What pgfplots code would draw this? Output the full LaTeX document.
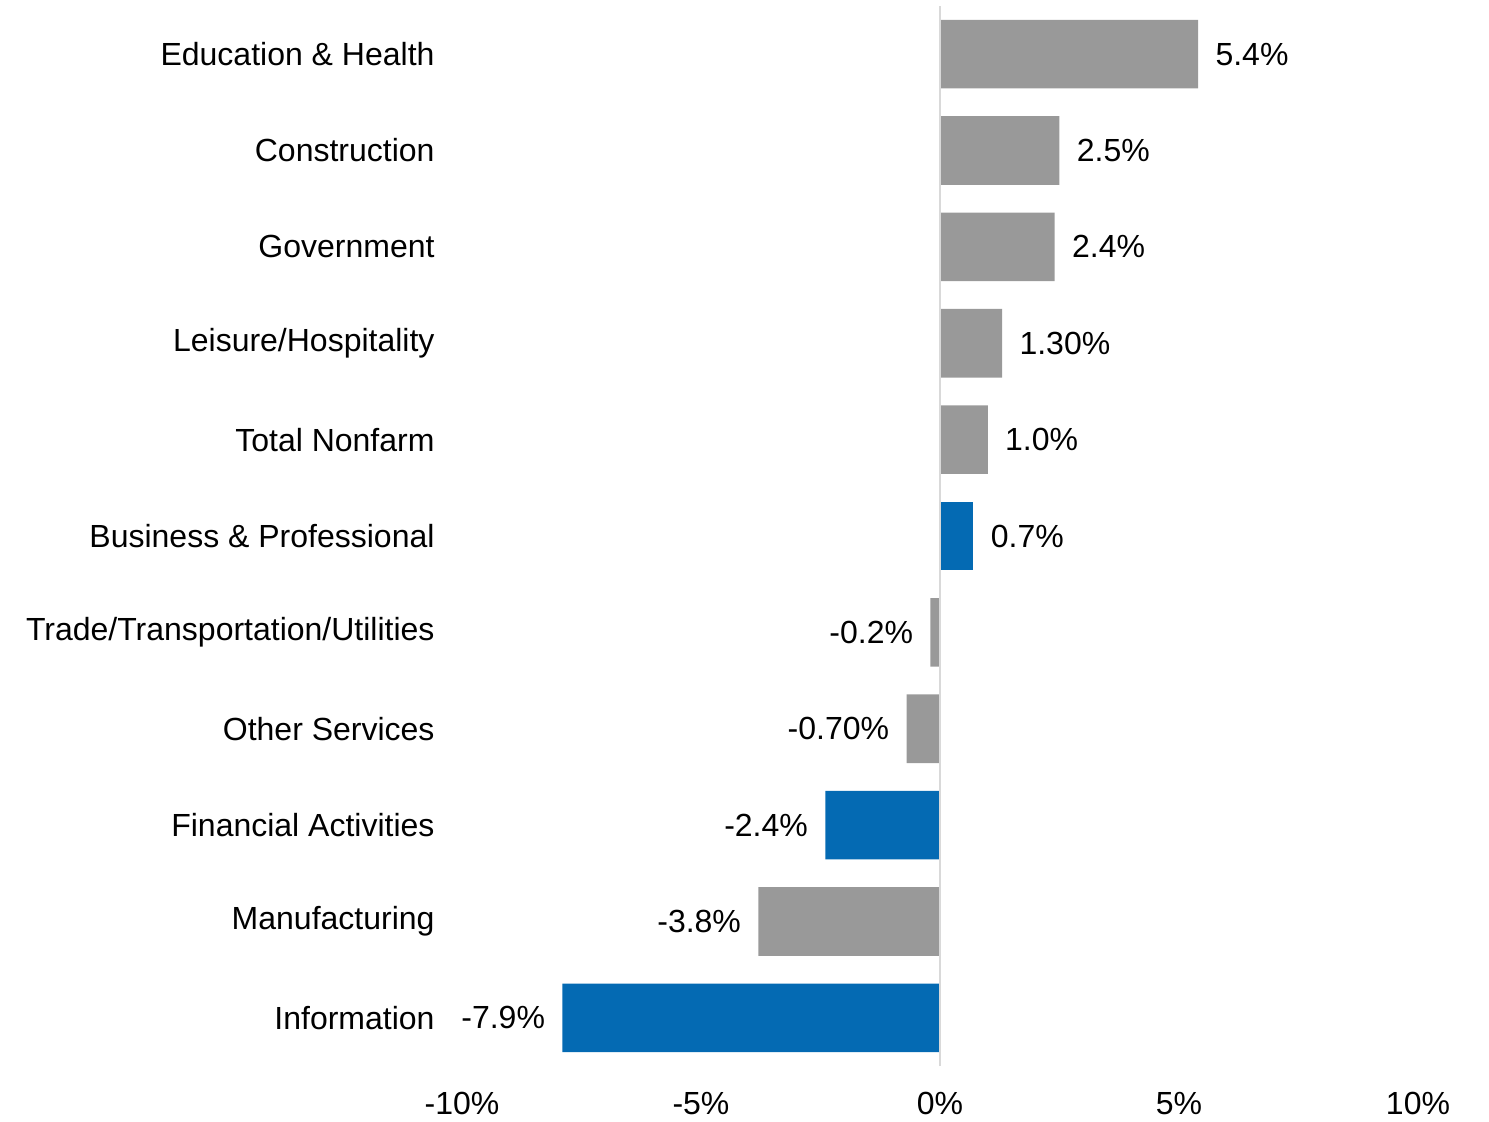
\documentclass[border=0pt]{standalone}
\usepackage{pgfplots}
\pgfplotsset{compat=1.18}
\usepackage{pgfplotstable}
\usepackage{fontspec}
\setmainfont{Liberation Sans}
\definecolor{bargray}{RGB}{153,153,153}
\definecolor{barblue}{RGB}{4,106,179}
\definecolor{zeroline}{RGB}{217,217,217}
\pgfplotstableread{
x y label
5.4 10 5.4\%
2.5 9 2.5\%
2.4 8 2.4\%
1.3 7 1.30\%
1.0 6 1.0\%
}\graypos
\pgfplotstableread{
x y label
0.7 5 0.7\%
}\bluepos
\pgfplotstableread{
x y label
-0.2 4 -0.2\%
-0.7 3 -0.70\%
-3.8 1 -3.8\%
}\grayneg
\pgfplotstableread{
x y label
-2.4 2 -2.4\%
-7.9 0 -7.9\%
}\blueneg
\begin{document}
\fontsize{16}{19}\selectfont
\begin{tikzpicture}
\path[use as bounding box] (-231pt,-27.5pt) rectangle (513.5pt,533pt);
\begin{axis}[
 at={(0,0)}, anchor=south west,
 scale only axis, width=478pt, height=530pt,
 xbar, bar width=34.3pt, bar shift=0pt,
 xmin=-10, xmax=10, ymin=-0.5, ymax=10.5,
 axis line style={draw=none},
 major tick length=0pt,
 xtick={-10,-5,0,5,10},
 xticklabels={-10\%,-5\%,0\%,5\%,10\%},
 ytick={0,...,10},
 yticklabels={Information,Manufacturing,Financial Activities,Other Services,Trade/Transportation/Utilities,Business \& Professional,Total Nonfarm,Leisure/Hospitality,Government,Construction,Education \& Health},
 tick label style={font=\fontsize{16}{19}\selectfont},
 yticklabel style={xshift=-8.2pt},
 xticklabel style={yshift=-7.5pt},
 point meta=explicit symbolic,
 nodes near coords,
]
\addplot[fill=bargray, draw=none, every node near coord/.append style={anchor=west, inner sep=0pt, xshift=8.5pt, font=\fontsize{16}{19}\selectfont}] table[x=x,y=y,meta=label] {\graypos};
\addplot[fill=barblue, draw=none, every node near coord/.append style={anchor=west, inner sep=0pt, xshift=8.5pt, font=\fontsize{16}{19}\selectfont}] table[x=x,y=y,meta=label] {\bluepos};
\addplot[fill=bargray, draw=none, every node near coord/.append style={anchor=east, inner sep=0pt, xshift=-8.5pt, font=\fontsize{16}{19}\selectfont}] table[x=x,y=y,meta=label] {\grayneg};
\addplot[fill=barblue, draw=none, every node near coord/.append style={anchor=east, inner sep=0pt, xshift=-8.5pt, font=\fontsize{16}{19}\selectfont}] table[x=x,y=y,meta=label] {\blueneg};
\draw[zeroline, line width=0.8pt] (axis cs:0,-0.5) -- (axis cs:0,10.5);
\end{axis}
\end{tikzpicture}
\end{document}
